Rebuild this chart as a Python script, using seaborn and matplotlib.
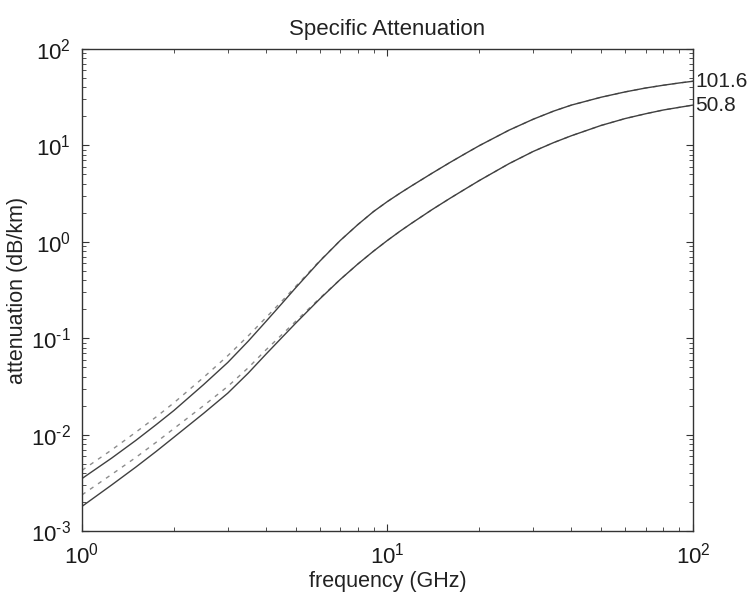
import numpy as np
import pandas as pd
import matplotlib
matplotlib.use("Agg")
import matplotlib.pyplot as plt
import seaborn as sns
from matplotlib.ticker import LogLocator, NullFormatter, FuncFormatter

# ---- data ----
freq = [1, 1.25, 1.5, 1.75, 2, 2.5, 3, 3.5, 4, 4.5, 5, 6, 7, 8, 9, 10, 11, 12, 14, 16,
        18, 20, 25, 30, 35, 40, 50, 60, 70, 80, 90, 100]
rain_rates = ["101.6", "50.8"]
att_101_solid = [0.0035, 0.0057, 0.0087, 0.0127, 0.0178, 0.033, 0.056, 0.0931, 0.149,
                 0.227, 0.332, 0.628, 1.03, 1.51, 2.06, 2.62, 3.20, 3.81, 5.15, 6.64,
                 8.24, 9.96, 14.4, 18.7, 22.7, 26.2, 31.6, 35.9, 39.4, 42.1, 44.4, 46.3]
att_50_solid = [0.0018, 0.0030, 0.0046, 0.0067, 0.0094, 0.0166, 0.0269, 0.0434, 0.0682,
                0.1007, 0.1426, 0.255, 0.406, 0.589, 0.800, 1.035, 1.29, 1.56, 2.16, 2.82,
                3.54, 4.33, 6.47, 8.66, 10.7, 12.6, 16.1, 19.0, 21.3, 23.3, 24.8, 26.2]
att_101_dashed = [0.00426, 0.00693, 0.01058, 0.01527, 0.0214, 0.0392, 0.0658, 0.1057, 0.1633,
                  0.2404, 0.3436, 0.6355, 1.03, 1.51, 2.06, 2.62, 3.20, 3.81, 5.15, 6.64,
                  8.24, 9.96, 14.4, 18.7, 22.7, 26.2, 31.6, 35.9, 39.4, 42.1, 44.4, 46.3]
att_50_dashed = [0.00237, 0.00386, 0.00579, 0.00834, 0.01156, 0.01995, 0.0316, 0.0493, 0.0756,
                 0.1080, 0.1493, 0.2599, 0.406, 0.589, 0.800, 1.035, 1.29, 1.56, 2.16, 2.82,
                 3.54, 4.33, 6.47, 8.66, 10.7, 12.6, 16.1, 19.0, 21.3, 23.3, 24.8, 26.2]

title = "Specific Attenuation"
xlabel = "frequency (GHz)"
ylabel = "attenuation (dB/km)"

# ---- style ----
sns.set_style("white")
plt.rcParams["font.family"] = ["Liberation Sans", "DejaVu Sans"]
plt.rcParams["mathtext.fontset"] = "custom"
plt.rcParams["mathtext.rm"] = "Liberation Sans"
plt.rcParams["mathtext.it"] = "Liberation Sans"
plt.rcParams["mathtext.bf"] = "Liberation Sans"

fig = plt.figure(figsize=(7.54, 5.98), dpi=100)
ax = fig.add_axes([82 / 754, 1 - 531 / 598, (693 - 82) / 754, (531 - 49) / 598])

df = pd.DataFrame({
    "freq": freq * 4,
    "att": att_101_dashed + att_50_dashed + att_101_solid + att_50_solid,
    "series": (["d101"] * len(freq) + ["d50"] * len(freq)
               + ["s101"] * len(freq) + ["s50"] * len(freq)),
})

for key in ["d101", "d50"]:
    sns.lineplot(data=df[df.series == key], x="freq", y="att", ax=ax, estimator=None,
                 color="#8c8c8c", linewidth=1.0, linestyle=(0, (3, 4)), legend=False)
for key in ["s101", "s50"]:
    sns.lineplot(data=df[df.series == key], x="freq", y="att", ax=ax, estimator=None,
                 color="#404040", linewidth=1.0, legend=False)

ax.set_xscale("log")
ax.set_yscale("log")
ax.set_xlim(1, 100)
ax.set_ylim(1e-3, 1e2)


def pow_fmt(v, pos):
    e = int(round(np.log10(v)))
    s = ("\u2010" + str(-e)) if e < 0 else str(e)
    return "$10^{" + s + "}$"


ax.xaxis.set_major_locator(LogLocator(base=10, numticks=10))
ax.yaxis.set_major_locator(LogLocator(base=10, numticks=10))
ax.xaxis.set_major_formatter(FuncFormatter(pow_fmt))
ax.yaxis.set_major_formatter(FuncFormatter(pow_fmt))
ax.xaxis.set_minor_locator(LogLocator(base=10, subs=np.arange(2, 10), numticks=20))
ax.yaxis.set_minor_locator(LogLocator(base=10, subs=np.arange(2, 10), numticks=20))
ax.xaxis.set_minor_formatter(NullFormatter())
ax.yaxis.set_minor_formatter(NullFormatter())

ax.tick_params(which="both", direction="in", top=True, right=True, bottom=True, left=True,
               color="#333333")
ax.tick_params(which="major", length=5, width=0.8, labelsize=16, pad=8, labelcolor="#1a1a1a")
ax.tick_params(which="minor", length=3, width=0.6)
for s in ax.spines.values():
    s.set_color("#333333")
    s.set_linewidth(1.0)

ax.set_title(title, fontsize=16, pad=10, color="#222222")
ax.set_xlabel(xlabel, fontsize=15.5, labelpad=2, color="#222222")
ax.set_ylabel(ylabel, fontsize=15.5, color="#222222")
ax.yaxis.set_label_coords(-0.088, 0.5)

for lab, vals in zip(rain_rates, [att_101_solid, att_50_solid]):
    ax.annotate(lab, xy=(freq[-1], vals[-1]), xytext=(1.5, 0), textcoords="offset points",
                ha="left", va="center", fontsize=15, color="#222222", annotation_clip=False)

fig.savefig("out.png", dpi=100, facecolor="white")
